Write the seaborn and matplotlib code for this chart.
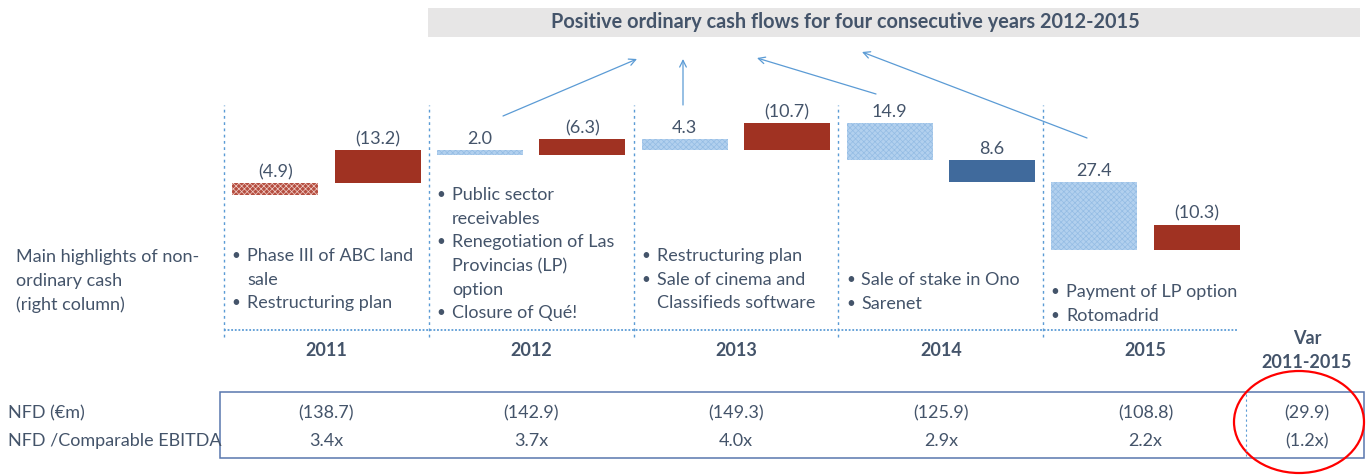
import numpy as np
import pandas as pd
import matplotlib.pyplot as plt
import seaborn as sns
from matplotlib.patches import Rectangle, Ellipse

# data
years = ["2011", "2012", "2013", "2014", "2015"]
ordinary = [-4.9, 2.0, 4.3, 14.9, 27.4]
non_ordinary = [-13.2, -6.3, -10.7, 8.6, -10.3]
nfd = ["(138.7)", "(142.9)", "(149.3)", "(125.9)", "(108.8)"]
nfd_ebitda = ["3.4x", "3.7x", "4.0x", "2.9x", "2.2x"]
var_nfd = "(29.9)"
var_ratio = "(1.2x)"
notes = [
    ["Phase III of ABC land\nsale", "Restructuring plan"],
    ["Public sector\nreceivables", "Renegotiation of Las\nProvincias (LP)\noption", "Closure of Qué!"],
    ["Restructuring plan", "Sale of cinema and\nClassifieds software"],
    ["Sale of stake in Ono", "Sarenet"],
    ["Payment of LP option", "Rotomadrid"],
]
notes_top = [256, 195, 256, 280, 292]
title = "Positive ordinary cash flows for four consecutive years 2012-2015"

sns.set_style("white")
plt.rcParams["font.family"] = ["Lato", "DejaVu Sans"]
plt.rcParams["hatch.linewidth"] = 0.5

TXT = "#44546A"
LINE = "#5B9BD5"
FS = 13

# waterfall: debt level goes up when cash flow is negative
rows = []
level = 0.0
for i, y in enumerate(years):
    for kind, v in (("ordinary", ordinary[i]), ("non-ordinary", non_ordinary[i])):
        start, level = level, level - v
        rows.append(dict(year=y, col=i, kind=kind, value=v, start=start, end=level))
df = pd.DataFrame(rows)
df["x"] = df["col"] + np.where(df["kind"] == "ordinary", 0.25, 0.75)
df["bottom"] = df[["start", "end"]].min(axis=1)
df["height"] = (df["start"] - df["end"]).abs()
df["top"] = df[["start", "end"]].max(axis=1)


def bar_style(kind, value):
    if kind == "ordinary":
        if value < 0:
            return dict(facecolor="#B54E40", edgecolor="#F0CEC8", hatch="xxxxxx")
        return dict(facecolor="#B2D0EE", edgecolor="#94BCE4", hatch="xxxxxx")
    if value < 0:
        return dict(facecolor="#A03222")
    return dict(facecolor="#406A9C")


def fmt(v):
    return f"({abs(v):.1f})" if v < 0 else f"{v:.1f}"


W, H = 1372, 475
X0, CW = 224, 204.8

fig = plt.figure(figsize=(W / 100, H / 100), dpi=100)
ax = fig.add_axes([X0 / W, (H - 330) / H, 5 * CW / W, 225 / H])
ax.set_xlim(0, 5)
ax.set_ylim(-54, 36)
ax.axis("off")

for _, r in df.iterrows():
    ax.bar(r["x"], r["height"], bottom=r["bottom"], width=0.42, linewidth=0,
           **bar_style(r["kind"], r["value"]))
    ax.annotate(fmt(r["value"]), (r["x"], r["top"]), xytext=(0, 2),
                textcoords="offset points", ha="center", va="bottom",
                fontsize=FS, color=TXT)

for i in range(len(years)):
    ax.axvline(i, ymin=-0.03, ymax=1, color=LINE, lw=1, ls=(0, (2, 2.5)), clip_on=False)
ax.axhline(-54, xmin=0, xmax=(1238 - X0) / (5 * CW), color=LINE, lw=1.3,
           ls=(0, (1, 1)), clip_on=False)

# overlay in pixel coordinates for the annotations
ov = fig.add_axes([0, 0, 1, 1], zorder=3)
ov.set_xlim(0, W)
ov.set_ylim(H, 0)
ov.axis("off")
ov.patch.set_alpha(0)

ov.add_patch(Rectangle((428, 8), 932, 29, facecolor="#E7E6E6", edgecolor="none"))
ov.text(845, 22.5, title, ha="center", va="center", fontsize=14.3, fontweight="bold", color=TXT)

arrows = [((503, 116), (637, 59)), ((683, 105), (683, 59)),
          ((876, 94), (757, 58)), ((1087, 138), (862, 52))]
for start, end in arrows:
    ov.annotate("", xy=end, xytext=start,
                arrowprops=dict(arrowstyle="->", color=LINE, lw=0.9,
                                shrinkA=0, shrinkB=0, mutation_scale=12))

LS = 23.7
for i, items in enumerate(notes):
    bx = X0 + i * CW + 12
    yy = notes_top[i]
    for item in items:
        for k, line in enumerate(item.split("\n")):
            if k == 0:
                ov.text(bx, yy, "•", ha="center", va="center", fontsize=FS - 2, color=TXT)
            ov.text(bx + 11, yy, line, ha="left", va="center", fontsize=FS, color=TXT)
            yy += LS

for k, line in enumerate(["Main highlights of non-", "ordinary cash", "(right column)"]):
    ov.text(16, 257 + k * LS, line, ha="left", va="center", fontsize=FS, color=TXT)

for i, y in enumerate(years):
    cx = X0 + (i + 0.5) * CW
    ov.text(cx, 351, y, ha="center", va="center", fontsize=FS, fontweight="bold", color=TXT)
    ov.text(cx, 413, nfd[i], ha="center", va="center", fontsize=FS, color=TXT)
    ov.text(cx, 441, nfd_ebitda[i], ha="center", va="center", fontsize=FS, color=TXT)

ov.text(1307, 339, "Var", ha="center", va="center", fontsize=FS, fontweight="bold", color=TXT)
ov.text(1307, 362, "2011-2015", ha="center", va="center", fontsize=FS, fontweight="bold", color=TXT)
ov.text(1307, 413, var_nfd, ha="center", va="center", fontsize=FS, color=TXT)
ov.text(1307, 441, var_ratio, ha="center", va="center", fontsize=FS, color=TXT)

ov.text(8, 413, "NFD (€m)", ha="left", va="center", fontsize=FS, color=TXT)
ov.text(8, 441, "NFD /Comparable EBITDA", ha="left", va="center", fontsize=FS, color=TXT)

ov.add_patch(Rectangle((220, 392), 1144, 66, facecolor="none", edgecolor="#5877AE", lw=1.1))
ov.plot([1246, 1246], [394, 456], color=LINE, lw=0.8, ls=(0, (2, 2.5)))
ov.add_patch(Ellipse((1299, 422), 130, 102, facecolor="none", edgecolor="#FF0000", lw=1.6))

fig.savefig("out.png", dpi=100)
plt.close(fig)
